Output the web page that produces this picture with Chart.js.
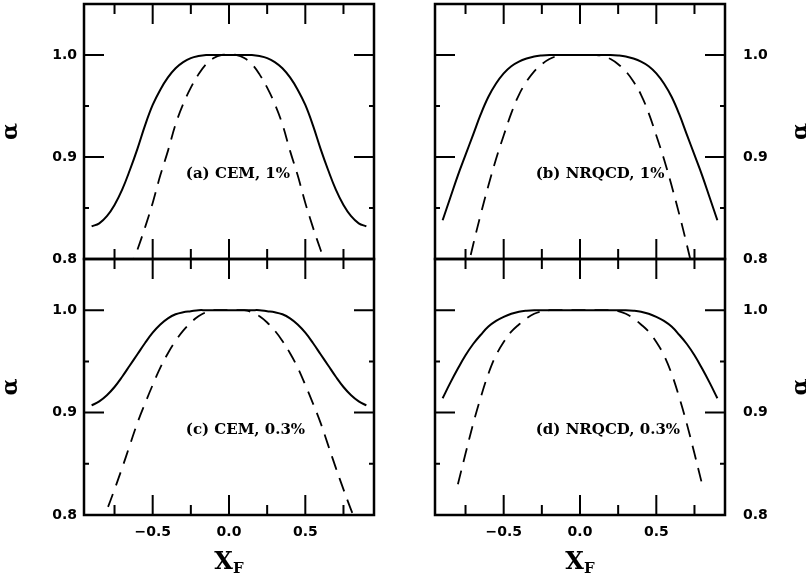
<!DOCTYPE html>
<html>
<head>
<meta charset="utf-8">
<script src="https://cdn.jsdelivr.net/npm/chart.js@4.4.1/dist/chart.umd.min.js"></script>
<style>
html, body { margin: 0; padding: 0; background: #fff; }
#wrap { position: relative; width: 806px; height: 582px; overflow: hidden; }
canvas { position: absolute; left: 0; top: 0; }
</style>
</head>
<body>
<div id="wrap">
  <canvas id="pa" width="806" height="582"></canvas>
  <canvas id="pb" width="806" height="582"></canvas>
  <canvas id="pc" width="806" height="582"></canvas>
  <canvas id="pd" width="806" height="582"></canvas>
</div>
<script>
// ---- tick values / labels ----
const xTicksMajor = [-0.5, 0.0, 0.5];
const xTickLabels = ['\u22120.5', '0.0', '0.5'];
const xTicksMinor = [-0.75, -0.25, 0.25, 0.75];
const yTicksMajor = [0.8, 0.9, 1.0];
const yTickLabels = ['0.8', '0.9', '1.0'];
const yTicksMinor = [0.85, 0.95];

// ---- panel texts ----
const panelLabels = ['(a) CEM, 1%', '(b) NRQCD, 1%', '(c) CEM, 0.3%', '(d) NRQCD, 0.3%'];
const yTitle = '\u03b1';
const xTitleMain = 'X';
const xTitleSub = 'F';

// ---- solid curves (common x grid) ----
const xSolid = [-0.90,-0.85,-0.80,-0.75,-0.70,-0.65,-0.60,-0.55,-0.50,-0.45,-0.40,-0.35,-0.30,-0.25,-0.20,-0.15,-0.10,-0.05,
                 0.00, 0.05, 0.10, 0.15, 0.20, 0.25, 0.30, 0.35, 0.40, 0.45, 0.50, 0.55, 0.60, 0.65, 0.70, 0.75, 0.80, 0.85, 0.90];
const solidA = [0.832,0.835,0.842,0.853,0.868,0.887,0.908,0.931,0.951,0.966,0.978,0.987,0.993,0.997,0.999,1.000,1.000,1.000,
                1.000,1.000,1.000,1.000,0.999,0.997,0.993,0.987,0.978,0.966,0.951,0.931,0.908,0.887,0.868,0.853,0.842,0.835,0.832];
const solidB = [0.838,0.860,0.882,0.902,0.922,0.942,0.959,0.972,0.982,0.989,0.9935,0.9965,0.9985,0.9995,1.000,1.000,1.000,1.000,
                1.000,1.000,1.000,1.000,1.000,0.9995,0.9985,0.9965,0.9935,0.989,0.982,0.972,0.959,0.942,0.922,0.902,0.882,0.860,0.838];
const solidC = [0.907,0.911,0.917,0.925,0.935,0.946,0.957,0.968,0.978,0.986,0.992,0.996,0.998,0.999,1.000,1.000,1.000,1.000,
                1.000,1.000,1.000,1.000,1.000,0.999,0.998,0.996,0.992,0.986,0.978,0.968,0.957,0.946,0.935,0.925,0.917,0.911,0.907];
const solidD = [0.914,0.929,0.943,0.956,0.967,0.976,0.984,0.9895,0.9935,0.9965,0.9985,0.9995,1.000,1.000,1.000,1.000,1.000,1.000,
                1.000,1.000,1.000,1.000,1.000,1.000,1.000,0.9995,0.9985,0.9965,0.9935,0.9895,0.984,0.976,0.967,0.956,0.943,0.929,0.914];

// ---- dashed curves ----
const xDashA = [-0.65,-0.60,-0.55,-0.50,-0.45,-0.40,-0.35,-0.30,-0.25,-0.20,-0.15,-0.10,-0.05,
                 0.00, 0.05, 0.10, 0.15, 0.20, 0.25, 0.30, 0.35, 0.40, 0.45, 0.50, 0.55, 0.60, 0.65];
const dashA  = [0.788,0.809,0.831,0.855,0.882,0.906,0.932,0.952,0.968,0.981,0.991,0.997,1.000,
                1.000,1.000,0.997,0.991,0.981,0.968,0.952,0.932,0.906,0.882,0.855,0.831,0.809,0.788];
const xDashB = [-0.75,-0.70,-0.65,-0.60,-0.55,-0.50,-0.45,-0.40,-0.35,-0.30,-0.25,-0.20,-0.15,-0.10,-0.05,
                 0.00, 0.05, 0.10, 0.15, 0.20, 0.25, 0.30, 0.35, 0.40, 0.45, 0.50, 0.55, 0.60, 0.65, 0.70, 0.75];
const dashB  = [0.782,0.814,0.844,0.872,0.898,0.921,0.943,0.961,0.974,0.984,0.991,0.996,0.999,1.000,1.000,
                1.000,1.000,1.000,0.999,0.996,0.991,0.984,0.974,0.961,0.943,0.921,0.898,0.872,0.844,0.814,0.782];
const xDashC = [-0.85,-0.80,-0.75,-0.70,-0.65,-0.60,-0.55,-0.50,-0.45,-0.40,-0.35,-0.30,-0.25,-0.20,-0.15,-0.10,-0.05,
                 0.00, 0.05, 0.10, 0.15, 0.20, 0.25, 0.30, 0.35, 0.40, 0.45, 0.50, 0.55, 0.60, 0.65, 0.70, 0.75, 0.80, 0.85];
const dashC  = [0.787,0.805,0.825,0.846,0.868,0.890,0.909,0.927,0.944,0.958,0.970,0.980,0.988,0.994,0.998,1.000,1.000,
                1.000,1.000,1.000,0.998,0.994,0.988,0.980,0.970,0.958,0.944,0.927,0.909,0.890,0.868,0.846,0.825,0.805,0.787];
const xDashD = [-0.80,-0.75,-0.70,-0.65,-0.60,-0.55,-0.50,-0.45,-0.40,-0.35,-0.30,-0.25,-0.20,-0.15,-0.10,-0.05,
                 0.00, 0.05, 0.10, 0.15, 0.20, 0.25, 0.30, 0.35, 0.40, 0.45, 0.50, 0.55, 0.60, 0.65, 0.70, 0.75, 0.80];
const dashD  = [0.830,0.860,0.889,0.915,0.938,0.956,0.969,0.979,0.986,0.992,0.9965,0.999,1.000,1.000,1.000,1.000,
                1.000,1.000,1.000,1.000,1.000,0.999,0.9965,0.992,0.986,0.979,0.969,0.956,0.938,0.915,0.889,0.860,0.830];

// ---- styles ----
const tickFont = { family: '"DejaVu Sans", sans-serif', size: 14, weight: 'bold' };
const labelFont = 'bold 15px "DejaVu Serif", serif';
const alphaFont = 'bold 22px "DejaVu Serif", serif';
const xMainFont = 'bold 24px "DejaVu Serif", serif';
const xSubFont = 'bold 15px "DejaVu Serif", serif';

const pts = (xs, ys) => xs.map((x, i) => ({ x: x, y: ys[i] }));

const framePlugin = {
  id: 'frame',
  afterDatasetsDraw(chart) {
    const ctx = chart.ctx, a = chart.chartArea, xs = chart.scales.x, ys = chart.scales.y;
    ctx.save();
    ctx.strokeStyle = '#000';
    ctx.lineWidth = 2.5;
    ctx.strokeRect(a.left, a.top, a.right - a.left, a.bottom - a.top);
    ctx.lineWidth = 2;
    ctx.beginPath();
    const xt = (vals, len) => vals.forEach(v => {
      const p = xs.getPixelForValue(v);
      ctx.moveTo(p, a.top); ctx.lineTo(p, a.top + len);
      ctx.moveTo(p, a.bottom); ctx.lineTo(p, a.bottom - len);
    });
    const yt = (vals, len) => vals.forEach(v => {
      const p = ys.getPixelForValue(v);
      ctx.moveTo(a.left, p); ctx.lineTo(a.left + len, p);
      ctx.moveTo(a.right, p); ctx.lineTo(a.right - len, p);
    });
    xt(xTicksMajor, 20); xt(xTicksMinor, 10);
    yt(yTicksMajor, 20); yt(yTicksMinor, 5);
    ctx.stroke();
    ctx.restore();
  }
};

const textPlugin = {
  id: 'texts',
  afterDraw(chart) {
    const o = chart.options.plugins.texts;
    const ctx = chart.ctx, a = chart.chartArea, xs = chart.scales.x, ys = chart.scales.y;
    ctx.save();
    ctx.fillStyle = '#000';
    ctx.font = labelFont;
    ctx.textAlign = 'left';
    ctx.textBaseline = 'middle';
    ctx.fillText(o.label, xs.getPixelForValue(o.labelAt[0]), ys.getPixelForValue(o.labelAt[1]));
    ctx.save();
    ctx.font = alphaFont;
    ctx.textAlign = 'center';
    ctx.textBaseline = 'middle';
    ctx.translate(o.alphaX, (a.top + a.bottom) / 2);
    ctx.rotate(-Math.PI / 2);
    ctx.fillText(yTitle, 0, 0);
    ctx.restore();
    if (o.xTitle) {
      ctx.font = xMainFont;
      const w1 = ctx.measureText(xTitleMain).width;
      ctx.font = xSubFont;
      const w2 = ctx.measureText(xTitleSub).width;
      const cx = xs.getPixelForValue(0);
      const x0 = cx - (w1 + w2) / 2;
      ctx.textAlign = 'left';
      ctx.textBaseline = 'alphabetic';
      ctx.font = xMainFont;
      ctx.fillText(xTitleMain, x0, 569);
      ctx.font = xSubFont;
      ctx.fillText(xTitleSub, x0 + w1, 573);
    }
    ctx.restore();
  }
};

function makePanel(id, solidY, dashX, dashY, p) {
  new Chart(document.getElementById(id), {
    type: 'line',
    data: {
      datasets: [
        { data: pts(xSolid, solidY), borderColor: '#000', borderWidth: 2, pointRadius: 0,
          tension: 0.4, fill: false, clip: 0 },
        { data: pts(dashX, dashY), borderColor: '#000', borderWidth: 1.8, borderDash: [14, 9], pointRadius: 0,
          tension: 0.4, fill: false, clip: 0 }
      ]
    },
    options: {
      responsive: false,
      animation: false,
      events: [],
      layout: { padding: p.padding },
      plugins: {
        legend: { display: false },
        tooltip: { enabled: false },
        texts: { label: p.label, labelAt: p.labelAt, alphaX: p.alphaX, xTitle: p.showX }
      },
      scales: {
        x: {
          type: 'linear', min: -0.95, max: 0.95, position: 'bottom', display: p.showX,
          afterBuildTicks: s => { s.ticks = xTicksMajor.map(v => ({ value: v })); },
          afterFit: s => { s.height = p.showX ? 67 : 0; s.paddingLeft = 0; s.paddingRight = 0; s.paddingTop = 0; s.paddingBottom = 0; },
          ticks: { padding: 9, font: tickFont, color: '#000', maxRotation: 0, autoSkip: false,
                   callback: (v, i) => xTickLabels[i] },
          grid: { display: false, drawTicks: false },
          border: { display: false }
        },
        y: {
          type: 'linear', min: 0.8, max: 1.05, position: p.yPos,
          afterBuildTicks: s => { s.ticks = yTicksMajor.map(v => ({ value: v })); },
          afterFit: s => { s.width = p.yWidth; s.paddingLeft = 0; s.paddingRight = 0; s.paddingTop = 0; s.paddingBottom = 0; },
          ticks: { padding: p.yPad, font: tickFont, color: '#000', autoSkip: false,
                   callback: (v, i) => yTickLabels[i] },
          grid: { display: false, drawTicks: false },
          border: { display: false }
        }
      }
    },
    plugins: [framePlugin, textPlugin]
  });
}

makePanel('pa', solidA, xDashA, dashA, {
  padding: { left: 0, right: 432, top: 4, bottom: 323 }, yPos: 'left', yWidth: 84, yPad: 7,
  showX: false, label: panelLabels[0], labelAt: [-0.283, 0.883], alphaX: 11 });
makePanel('pb', solidB, xDashB, dashB, {
  padding: { left: 435, right: 0, top: 4, bottom: 323 }, yPos: 'right', yWidth: 81, yPad: 18,
  showX: false, label: panelLabels[1], labelAt: [-0.29, 0.883], alphaX: 801 });
makePanel('pc', solidC, xDashC, dashC, {
  padding: { left: 0, right: 432, top: 259, bottom: 0 }, yPos: 'left', yWidth: 84, yPad: 7,
  showX: true, label: panelLabels[2], labelAt: [-0.283, 0.883], alphaX: 11 });
makePanel('pd', solidD, xDashD, dashD, {
  padding: { left: 435, right: 0, top: 259, bottom: 0 }, yPos: 'right', yWidth: 81, yPad: 18,
  showX: true, label: panelLabels[3], labelAt: [-0.29, 0.883], alphaX: 801 });
</script>
</body>
</html>
